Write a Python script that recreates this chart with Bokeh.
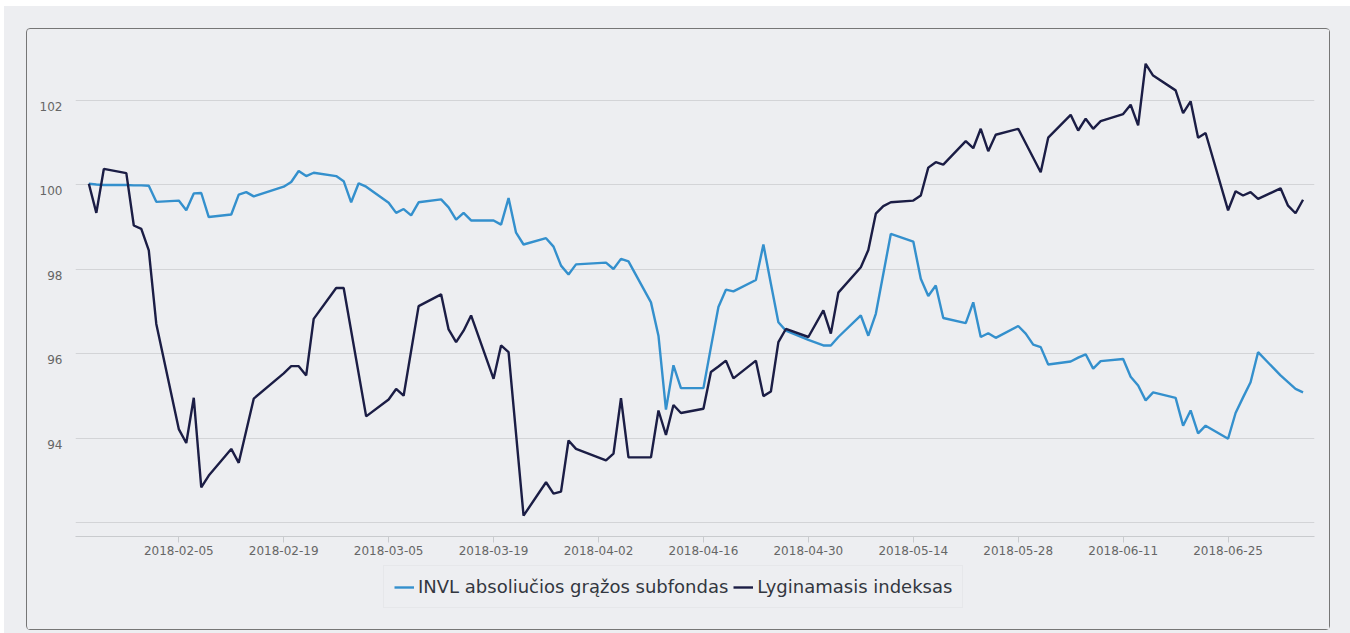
from datetime import datetime
import pandas as pd
from bokeh.plotting import figure
from bokeh.layouts import column
from bokeh.models import (ColumnDataSource, Range1d, FixedTicker, DatetimeTickFormatter,
                          Legend, LegendItem)
from bokeh.embed import file_html
from bokeh.resources import INLINE

# ---------------- data ----------------
fund_dates = ["2018-01-24", "2018-01-25", "2018-01-26", "2018-01-29", "2018-01-30", "2018-01-31",
              "2018-02-01", "2018-02-02", "2018-02-05", "2018-02-06", "2018-02-07", "2018-02-08",
              "2018-02-09", "2018-02-12", "2018-02-13", "2018-02-14", "2018-02-15", "2018-02-19",
              "2018-02-20", "2018-02-21", "2018-02-22", "2018-02-23", "2018-02-26", "2018-02-27",
              "2018-02-28", "2018-03-01", "2018-03-02", "2018-03-05", "2018-03-06", "2018-03-07",
              "2018-03-08", "2018-03-09", "2018-03-12", "2018-03-13", "2018-03-14", "2018-03-15",
              "2018-03-16", "2018-03-19", "2018-03-20", "2018-03-21", "2018-03-22", "2018-03-23",
              "2018-03-26", "2018-03-27", "2018-03-28", "2018-03-29", "2018-03-30", "2018-04-03",
              "2018-04-04", "2018-04-05", "2018-04-06", "2018-04-09", "2018-04-10", "2018-04-11",
              "2018-04-12", "2018-04-13", "2018-04-16", "2018-04-17", "2018-04-18", "2018-04-19",
              "2018-04-20", "2018-04-23", "2018-04-24", "2018-04-25", "2018-04-26", "2018-04-27",
              "2018-04-30", "2018-05-02", "2018-05-03", "2018-05-04", "2018-05-07", "2018-05-08",
              "2018-05-09", "2018-05-11", "2018-05-14", "2018-05-15", "2018-05-16", "2018-05-17",
              "2018-05-18", "2018-05-21", "2018-05-22", "2018-05-23", "2018-05-24", "2018-05-25",
              "2018-05-28", "2018-05-29", "2018-05-30", "2018-05-31", "2018-06-01", "2018-06-04",
              "2018-06-05", "2018-06-06", "2018-06-07", "2018-06-08", "2018-06-11", "2018-06-12",
              "2018-06-13", "2018-06-14", "2018-06-15", "2018-06-18", "2018-06-19", "2018-06-20",
              "2018-06-21", "2018-06-22", "2018-06-25", "2018-06-26", "2018-06-27", "2018-06-28",
              "2018-06-29", "2018-07-02", "2018-07-03", "2018-07-04", "2018-07-05"]
fund_values = [100.03, 100.01, 100.00, 100.00, 99.99, 99.99,
               99.98, 99.60, 99.63, 99.40, 99.80, 99.81,
               99.24, 99.30, 99.77, 99.83, 99.73, 99.96,
               100.07, 100.33, 100.21, 100.29, 100.21, 100.09,
               99.59, 100.04, 99.96, 99.58, 99.34, 99.43,
               99.28, 99.59, 99.66, 99.47, 99.18, 99.34,
               99.16, 99.16, 99.06, 99.69, 98.87, 98.59,
               98.74, 98.54, 98.09, 97.88, 98.12, 98.16,
               98.01, 98.25, 98.19, 97.22, 96.43, 94.68,
               95.73, 95.19, 95.19, 96.16, 97.11, 97.52,
               97.48, 97.75, 98.59, 97.66, 96.75, 96.55,
               96.33, 96.20, 96.20, 96.40, 96.91, 96.43,
               96.95, 98.84, 98.66, 97.78, 97.37, 97.62,
               96.85, 96.73, 97.22, 96.40, 96.49, 96.38,
               96.66, 96.48, 96.22, 96.16, 95.75, 95.82,
               95.91, 95.99, 95.65, 95.83, 95.88, 95.46,
               95.25, 94.90, 95.09, 94.96, 94.30, 94.66,
               94.12, 94.30, 93.99, 94.60, 94.97, 95.33,
               96.04, 95.49, 95.33, 95.17, 95.09]

index_dates = ["2018-01-24", "2018-01-25", "2018-01-26", "2018-01-29", "2018-01-30", "2018-01-31",
               "2018-02-01", "2018-02-02", "2018-02-05", "2018-02-06", "2018-02-07", "2018-02-08",
               "2018-02-09", "2018-02-12", "2018-02-13", "2018-02-15", "2018-02-19", "2018-02-20",
               "2018-02-21", "2018-02-22", "2018-02-23", "2018-02-26", "2018-02-27", "2018-03-02",
               "2018-03-05", "2018-03-06", "2018-03-07", "2018-03-09", "2018-03-12", "2018-03-13",
               "2018-03-14", "2018-03-15", "2018-03-16", "2018-03-19", "2018-03-20", "2018-03-21",
               "2018-03-23", "2018-03-26", "2018-03-27", "2018-03-28", "2018-03-29", "2018-03-30",
               "2018-04-03", "2018-04-04", "2018-04-05", "2018-04-06", "2018-04-09", "2018-04-10",
               "2018-04-11", "2018-04-12", "2018-04-13", "2018-04-16", "2018-04-17", "2018-04-18",
               "2018-04-19", "2018-04-20", "2018-04-23", "2018-04-24", "2018-04-25", "2018-04-26",
               "2018-04-27", "2018-04-30", "2018-05-02", "2018-05-03", "2018-05-04", "2018-05-07",
               "2018-05-08", "2018-05-09", "2018-05-10", "2018-05-11", "2018-05-14", "2018-05-15",
               "2018-05-16", "2018-05-17", "2018-05-18", "2018-05-21", "2018-05-22", "2018-05-23",
               "2018-05-24", "2018-05-25", "2018-05-28", "2018-05-31", "2018-06-01", "2018-06-04",
               "2018-06-05", "2018-06-06", "2018-06-07", "2018-06-08", "2018-06-11", "2018-06-12",
               "2018-06-13", "2018-06-14", "2018-06-15", "2018-06-18", "2018-06-19", "2018-06-20",
               "2018-06-21", "2018-06-22", "2018-06-25", "2018-06-26", "2018-06-27", "2018-06-28",
               "2018-06-29", "2018-07-02", "2018-07-03", "2018-07-04", "2018-07-05"]
index_values = [100.03, 99.34, 100.38, 100.28, 99.04, 98.96,
                98.45, 96.71, 94.22, 93.89, 94.96, 92.84,
                93.12, 93.75, 93.42, 94.94, 95.54, 95.71,
                95.71, 95.49, 96.83, 97.56, 97.56, 94.52,
                94.92, 95.17, 95.01, 97.13, 97.41, 96.58,
                96.28, 96.55, 96.91, 95.41, 96.20, 96.04,
                92.17, 92.96, 92.69, 92.74, 93.95, 93.75,
                93.48, 93.64, 94.95, 93.55, 93.55, 94.66,
                94.08, 94.79, 94.60, 94.70, 95.57, 95.70,
                95.84, 95.42, 95.84, 95.00, 95.11, 96.28,
                96.59, 96.40, 97.03, 96.48, 97.45, 98.05,
                98.46, 99.32, 99.50, 99.59, 99.63, 99.75,
                100.41, 100.54, 100.48, 101.04, 100.87, 101.33,
                100.80, 101.19, 101.33, 100.30, 101.12, 101.66,
                101.29, 101.57, 101.33, 101.51, 101.68, 101.90,
                101.41, 102.87, 102.59, 102.24, 101.70, 101.98,
                101.12, 101.23, 99.40, 99.85, 99.75, 99.83,
                99.67, 99.92, 99.51, 99.33, 99.65]

series_names = ["INVL absoliučios grąžos subfondas", "Lyginamasis indeksas"]
x_tick_labels = ["2018-02-05", "2018-02-19", "2018-03-05", "2018-03-19", "2018-04-02", "2018-04-16",
                 "2018-04-30", "2018-05-14", "2018-05-28", "2018-06-11", "2018-06-25"]
y_ticks = [92, 94, 96, 98, 100, 102]

# ---------------- styling ----------------
BG = "#edeef1"
BLUE = "#3490cd"
NAVY = "#1b1d45"
GRID = "#d3d4d7"
FONT = "DejaVu Sans"
LABEL_DROP = 0.14   # y labels sit a little below their grid line, as in the original

fund_src = ColumnDataSource(dict(x=pd.to_datetime(fund_dates), y=fund_values))
index_src = ColumnDataSource(dict(x=pd.to_datetime(index_dates), y=index_values))

# ---- main chart ----
p = figure(width=1302, height=531, x_axis_type="datetime",
           output_backend="svg", toolbar_location=None,
           x_range=Range1d(datetime(2018, 1, 22, 5, 17), datetime(2018, 7, 6, 12, 43)),
           y_range=Range1d(91.676, 103.421),
           min_border_left=48, min_border_right=15, min_border_top=11, min_border_bottom=24,
           background_fill_color=BG, border_fill_color=BG, outline_line_color=None)

p.line("x", "y", source=fund_src, line_color=BLUE, line_width=2.4)
p.line("x", "y", source=index_src, line_color=NAVY, line_width=2.4)

p.xgrid.visible = False
p.ygrid.ticker = FixedTicker(ticks=y_ticks)
p.ygrid.grid_line_color = GRID
p.ygrid.grid_line_width = 1

xt = [pd.Timestamp(s).value / 1e6 for s in x_tick_labels]
p.xaxis.ticker = FixedTicker(ticks=xt)
p.xaxis.formatter = DatetimeTickFormatter(days="%Y-%m-%d", months="%Y-%m-%d", years="%Y-%m-%d",
                                          hours="%Y-%m-%d")
p.xaxis.axis_line_color = "#c9cbce"
p.xaxis.major_tick_line_color = "#c9cbce"
p.xaxis.major_tick_out = 6
p.xaxis.major_tick_in = 0
p.xaxis.minor_tick_line_color = None
p.xaxis.major_label_standoff = 3
p.xaxis.major_label_text_font = FONT
p.xaxis.major_label_text_font_size = "12px"
p.xaxis.major_label_text_color = "#666666"

label_vals = [t for t in y_ticks if t != 92]
label_ticks = [round(t - LABEL_DROP, 3) for t in label_vals]
p.yaxis.ticker = FixedTicker(ticks=label_ticks)
p.yaxis.major_label_overrides = {lt: str(t) for lt, t in zip(label_ticks, label_vals)}
p.yaxis.axis_line_color = None
p.yaxis.major_tick_line_color = None
p.yaxis.minor_tick_line_color = None
p.yaxis.major_tick_out = 0
p.yaxis.major_tick_in = 0
p.yaxis.major_label_standoff = 13
p.yaxis.major_label_text_font = FONT
p.yaxis.major_label_text_font_size = "12px"
p.yaxis.major_label_text_color = "#666666"

# ---- legend strip under the chart (series lie outside its ranges, only the key shows) ----
lf = figure(width=1302, height=69, output_backend="svg", toolbar_location=None,
            x_range=Range1d(0, 1), y_range=Range1d(0, 1),
            x_axis_location=None, y_axis_location=None,
            min_border=0, background_fill_color=BG, border_fill_color=BG,
            outline_line_color=None)
lf.xgrid.visible = False
lf.ygrid.visible = False
lr1 = lf.line("x", "y", source=fund_src, line_color=BLUE, line_width=2.4)
lr2 = lf.line("x", "y", source=index_src, line_color=NAVY, line_width=2.4)

legend = Legend(items=[LegendItem(label=series_names[0], renderers=[lr1]),
                       LegendItem(label=series_names[1], renderers=[lr2])],
                orientation="horizontal", location=(308, 21),
                label_text_font=FONT, label_text_font_size="18px", label_text_color="#333740",
                glyph_width=20, glyph_height=18, label_standoff=4, spacing=5,
                padding=10, margin=0,
                background_fill_color=BG, background_fill_alpha=1.0,
                border_line_color="#dfe0e3", border_line_width=1)
lf.add_layout(legend, "center")

box = column(p, lf, spacing=0, margin=(22, 0, 0, 22),
             styles={"border": "1px solid #767676", "border-radius": "4px",
                     "background-color": BG})
page = column(box, width=1346, height=627, margin=(6, 0, 0, 4),
              styles={"background-color": BG})

open("out.html", "w").write(file_html(page, INLINE))
